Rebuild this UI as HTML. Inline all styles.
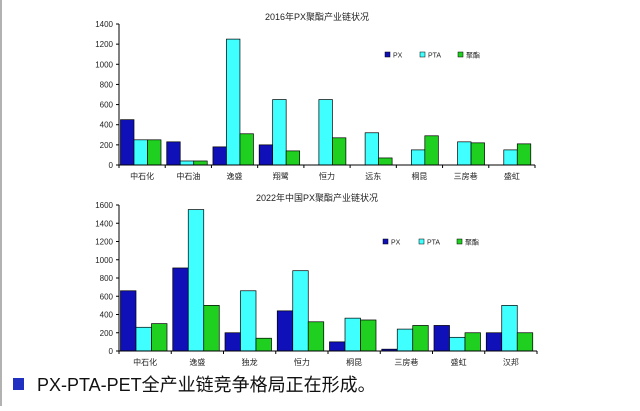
<!DOCTYPE html>
<html><head><meta charset="utf-8"><style>
body{margin:0;width:640px;height:406px;background:#fff;overflow:hidden;font-family:"Liberation Sans","Noto Sans CJK SC",sans-serif}
svg text{font-family:"Liberation Sans","Noto Sans CJK SC",sans-serif}
</style></head><body>
<svg id="s" width="640" height="406">
<line x1="1" y1="0" x2="1" y2="406" stroke="#999" stroke-width="1.5"/>
<rect x="13" y="378" width="11" height="12" fill="#2030c0"/>
<text x="37" y="391" font-size="18" fill="#111">PX-PTA-PET全产业链竞争格局正在形成。</text>
</svg>
<script>
const cats1=["中石化","中石油","逸盛","翔鹭","恒力","远东","桐昆","三房巷","盛虹"];
const px1=[450,230,180,200,0,0,0,0,0];
const pta1=[250,40,1250,650,650,320,150,230,150];
const pet1=[250,40,310,140,270,70,290,220,210];
const ticks1=[0,200,400,600,800,1000,1200,1400];
const cats2=["中石化","逸盛","独龙","恒力","桐昆","三房巷","盛虹","汉邦"];
const px2=[660,910,200,440,100,20,280,200];
const pta2=[260,1550,660,880,360,240,150,500];
const pet2=[300,500,140,320,340,280,200,200];
const ticks2=[0,200,400,600,800,1000,1200,1400,1600];
const svg=document.getElementById('s');
const NS='http://www.w3.org/2000/svg';
function mk(tag,attrs,name,txt){const e=document.createElementNS(NS,tag);for(const k in attrs)e.setAttribute(k,attrs[k]);


if(txt!==undefined)e.textContent=txt;svg.appendChild(e);return e;}
const colors=["#1010b8","#40ffff","#20d020"];
function chart(id,title,cats,series,ticks,x0,x1,y0,yTop,max,bw,titleY,legY,legX){
  const ys=v=>y0-(v/max)*(y0-yTop);
  mk('text',{x:317,y:titleY,'font-size':9,'text-anchor':'middle',fill:'#222'},id+'-title',title);
  const gw=(x1-x0)/cats.length;
  const off=1.5;
  cats.forEach((c,i)=>{
    series.forEach((s,j)=>{
      const v=s[i];if(v<=0)return;
      mk('rect',{x:x0+i*gw+off+j*bw,y:ys(v),width:bw,height:y0-ys(v),fill:colors[j],stroke:'#000','stroke-width':0.7},id+'-bar-'+i+'-'+j);
    });
    mk('text',{x:x0+i*gw+gw/2,y:y0+14,'font-size':8,'text-anchor':'middle',fill:'#222'},id+'-xlabel',c);
  });
  mk('line',{x1:x0,y1:yTop,x2:x0,y2:y0,stroke:'#000','stroke-width':1},id+'-y-axis');
  mk('line',{x1:x0,y1:y0,x2:x1,y2:y0,stroke:'#000','stroke-width':1},id+'-x-axis');
  ticks.forEach(t=>{
    mk('line',{x1:x0-3,y1:ys(t),x2:x0,y2:ys(t),stroke:'#000'},id+'-ytick');
    mk('text',{x:x0-6,y:ys(t)+3,'font-size':8,'text-anchor':'end',fill:'#222'},id+'-ytick-label',t);
  });
  for(let i=0;i<=cats.length;i++)mk('line',{x1:x0+i*gw,y1:y0,x2:x0+i*gw,y2:y0+3,stroke:'#000'},id+'-xtick');
  const names=["PX","PTA","聚酯"];
  names.forEach((n,j)=>{
    mk('rect',{x:legX[j],y:legY-3,width:5,height:5,fill:colors[j],stroke:'#000','stroke-width':0.5},id+'-legend-swatch');
    mk('text',{x:legX[j]+8,y:legY+2.5,'font-size':7,fill:'#222'},id+'-legend-label',n);
  });
}
chart('c1','2016年PX聚酯产业链状况',cats1,[px1,pta1,pet1],ticks1,119,535,165,24,1400,13.5,20,55,[385,420,458]);
chart('c2','2022年中国PX聚酯产业链状况',cats2,[px2,pta2,pet2],ticks2,119,537,351,205,1600,15.5,201,242,[383,419,457]);
</script>
</body></html>
